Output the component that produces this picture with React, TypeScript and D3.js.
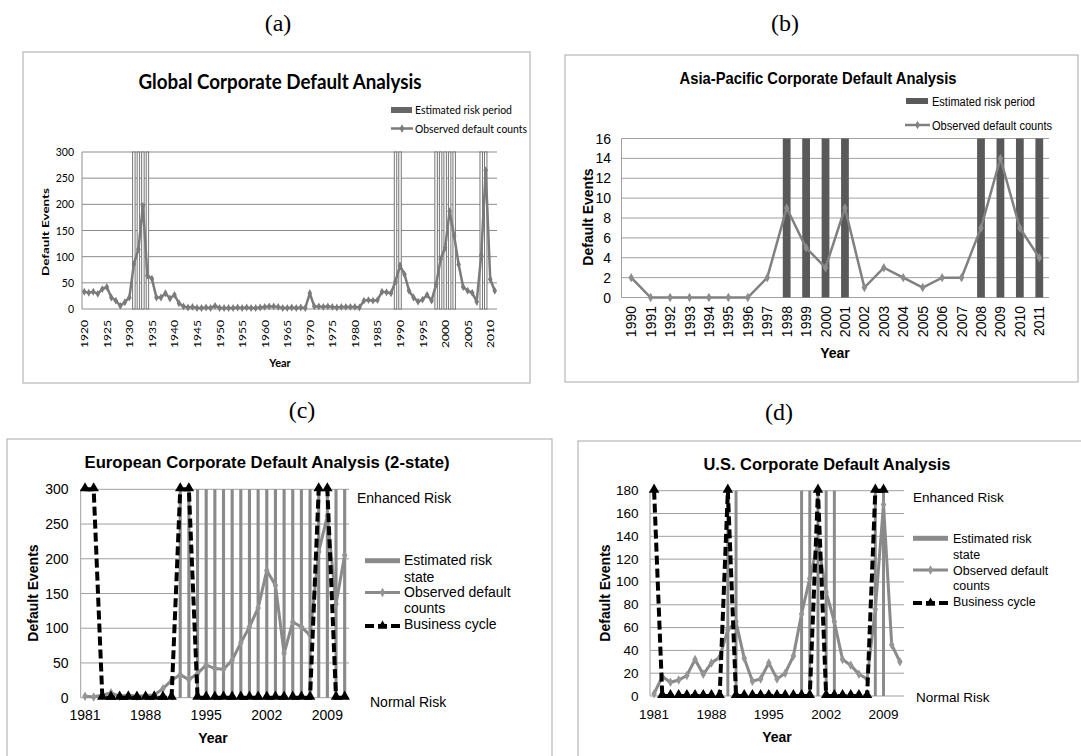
import React from 'react';
import * as d3 from 'd3';

// ---- data ----
const globalYears = d3.range(1920, 2012);
const globalDefaults = [
  33, 31, 33, 29, 38, 42, 22, 16, 6, 13,
  22, 86, 114, 197, 64, 58, 22, 22, 30, 20,
  27, 11, 5, 3, 4, 2, 2, 3, 2, 6,
  2, 2, 2, 2, 3, 2, 3, 2, 2, 3,
  4, 5, 5, 4, 2, 2, 3, 2, 3, 2,
  30, 5, 5, 4, 5, 4, 3, 4, 4, 4,
  4, 3, 16, 17, 16, 17, 33, 32, 30, 53,
  83, 66, 35, 22, 14, 18, 27, 16, 47, 95,
  117, 187, 140, 85, 42, 35, 31, 14, 103, 265,
  57, 35,
];
const globalRisk = [1931, 1932, 1933, 1934, 1989, 1990, 1998, 1999, 2000, 2001, 2002, 2008, 2009];
const globalTickYears = [1920, 1925, 1930, 1935, 1940, 1945, 1950, 1955, 1960, 1965, 1970, 1975, 1980, 1985, 1990, 1995, 2000, 2005, 2010];
const globalYTicks = [0, 50, 100, 150, 200, 250, 300];

const asiaYears = d3.range(1990, 2012);
const asiaDefaults = [2, 0, 0, 0, 0, 0, 0, 2, 9, 5, 3, 9, 1, 3, 2, 1, 2, 2, 7, 14, 7, 4];
const asiaRisk = [1998, 1999, 2000, 2001, 2008, 2009, 2010, 2011];
const asiaYTicks = [0, 2, 4, 6, 8, 10, 12, 14, 16];

const cycleYears = d3.range(1981, 2012);
const cycleTickYears = [1981, 1988, 1995, 2002, 2009];

const euDefaults = [2, 1, 4, 7, 2, 4, 2, 3, 4, 13, 25, 33, 26, 35, 47, 42, 41, 54, 79, 102, 129, 183, 162, 64, 109, 102, 90, 210, 262, 135, 205];
const euRisk = [1992, 1993, 1994, 1995, 1996, 1997, 1998, 1999, 2000, 2001, 2002, 2003, 2004, 2005, 2006, 2007, 2008, 2009, 2010, 2011];
const euCycle: (number | null)[] = [300, 300, 0, 0, 0, 0, 0, 0, 0, 0, 0, 300, 300, 0, 0, 0, 0, 0, 0, 0, 0, 0, 0, 0, 0, 0, 0, 300, 300, 0, 0];
const euYTicks = [0, 50, 100, 150, 200, 250, 300];

const usDefaults = [2, 17, 12, 14, 18, 32, 19, 29, 34, 58, 65, 33, 13, 15, 29, 15, 20, 35, 72, 103, 135, 91, 65, 32, 27, 19, 15, 76, 168, 45, 30];
const usRisk = [1990, 1991, 1999, 2000, 2001, 2002, 2003, 2008, 2009];
const usCycle: (number | null)[] = [180, 0, 0, 0, 0, 0, 0, 0, 0, 180, 0, 0, 0, 0, 0, 0, 0, 0, 0, 0, 180, 0, 0, 0, 0, 0, 0, 180, 180, null, null];
const usYTicks = [0, 20, 40, 60, 80, 100, 120, 140, 160, 180];

const SANS = "'Liberation Sans', Arial, sans-serif";
const LATO = "Lato, 'Open Sans', sans-serif";
const SERIF = "'Liberation Serif', 'Times New Roman', serif";

type TP = {
  x: number; y: number; size: number; bold?: boolean; font?: string;
  anchor?: 'start' | 'middle' | 'end'; len?: number; rot?: boolean; mid?: boolean;
  children: React.ReactNode;
};
const Txt = ({ x, y, size, bold, font = SANS, anchor = 'start', len, rot, mid, children }: TP) => (
  <text
    transform={`translate(${x},${y})${rot ? ' rotate(-90)' : ''}`}
    fontSize={size}
    fontFamily={font}
    fontWeight={bold ? 'bold' : 'normal'}
    textAnchor={anchor}
    dominantBaseline={mid ? 'central' : undefined}
    fill="#000"
    textLength={len}
    lengthAdjust={len ? 'spacingAndGlyphs' : undefined}
  >
    {children}
  </text>
);

const diamond = (s: number) => d3.symbol().type(d3.symbolDiamond).size(s)() || '';
const triangle = (s: number) => d3.symbol().type(d3.symbolTriangle).size(s)() || '';

// (a) global
const PanelA = () => {
  const x = d3.scaleBand<number>().domain(globalYears).range([82, 497]);
  const y = d3.scaleLinear().domain([0, 300]).range([309, 152]);
  const bw = x.bandwidth();
  const cx = (yr: number) => (x(yr) ?? 0) + bw / 2;
  const line = d3.line<number>().x((_, i) => cx(globalYears[i])).y((d) => y(d));
  const rw = bw * 0.55;
  const grey = '#7b7b7b';
  return (
    <g>
      <rect x={23} y={52} width={507} height={331} fill="#fff" stroke="#c4c4c4" strokeWidth={1.5} />
      <Txt x={280} y={89} size={20} bold font={LATO} anchor="middle" len={283}>Global Corporate Default Analysis</Txt>
      <rect x={391} y={107} width={21} height={6} fill="#666" />
      <Txt x={415} y={113.5} size={11} font={LATO} len={97}>Estimated risk period</Txt>
      <line x1={391} x2={413} y1={128.5} y2={128.5} stroke={grey} strokeWidth={2.5} />
      <path d={diamond(20)} transform="translate(402,128.5)" fill={grey} />
      <Txt x={415} y={132.5} size={11} font={LATO} len={112}>Observed default counts</Txt>
      {globalYTicks.map((t) => (
        <g key={t}>
          <line x1={82} x2={497} y1={y(t)} y2={y(t)} stroke="#8c8c8c" strokeWidth={1} />
          <Txt x={74} y={y(t)} size={10.5} font={LATO} anchor="end" mid>{t}</Txt>
        </g>
      ))}
      <line x1={82} x2={82} y1={152} y2={309} stroke="#8c8c8c" />
      {globalRisk.map((yr) => (
        <rect key={yr} x={cx(yr) - rw / 2} y={152} width={rw} height={157} fill="#fafafa" stroke="#6a6a6a" strokeWidth={0.9} />
      ))}
      <path d={line(globalDefaults) || ''} fill="none" stroke={grey} strokeWidth={2.5} />
      {globalDefaults.map((v, i) => (
        <path key={i} d={diamond(18)} transform={`translate(${cx(globalYears[i])},${y(v)})`} fill={grey} />
      ))}
      {globalTickYears.map((yr) => (
        <Txt key={yr} x={cx(yr)} y={320} size={10} font={LATO} anchor="end" rot mid len={28}>{yr}</Txt>
      ))}
      <Txt x={280} y={367} size={11} bold font={LATO} anchor="middle">Year</Txt>
      <Txt x={45} y={232} size={10} bold font={LATO} anchor="middle" rot mid len={88}>Default Events</Txt>
    </g>
  );
};

// (b) asia-pacific
const PanelB = () => {
  const x = d3.scaleBand<number>().domain(asiaYears).range([621.5, 1049]);
  const y = d3.scaleLinear().domain([0, 16]).range([297.5, 138.5]);
  const bw = x.bandwidth();
  const cx = (yr: number) => (x(yr) ?? 0) + bw / 2;
  const line = d3.line<number>().x((_, i) => cx(asiaYears[i])).y((d) => y(d));
  const rw = bw * 0.4;
  const grey = '#808080';
  return (
    <g>
      <rect x={565} y={55} width={513} height={327} fill="#fff" stroke="#a8a8a8" strokeWidth={1} />
      <Txt x={818} y={84} size={16.5} bold anchor="middle" len={277}>Asia-Pacific Corporate Default Analysis</Txt>
      <rect x={906} y={98} width={22} height={6} fill="#595959" />
      <Txt x={932} y={106} size={12.5} len={103}>Estimated risk period</Txt>
      <line x1={905} x2={930} y1={125} y2={125} stroke={grey} strokeWidth={2.5} />
      <path d={diamond(20)} transform="translate(917.5,125)" fill={grey} />
      <Txt x={932} y={130} size={12.5} len={120}>Observed default counts</Txt>
      {asiaYTicks.map((t) => (
        <g key={t}>
          <line x1={621.5} x2={1049} y1={y(t)} y2={y(t)} stroke="#a0a0a0" strokeWidth={1} />
          <Txt x={611} y={y(t)} size={14} anchor="end" mid>{t}</Txt>
        </g>
      ))}
      <line x1={621.5} x2={621.5} y1={138.5} y2={297.5} stroke="#a0a0a0" />
      {asiaRisk.map((yr) => (
        <rect key={yr} x={cx(yr) - rw / 2} y={138.5} width={rw} height={159} fill="#595959" />
      ))}
      <path d={line(asiaDefaults) || ''} fill="none" stroke={grey} strokeWidth={2.5} />
      {asiaDefaults.map((v, i) => (
        <path key={i} d={diamond(26)} transform={`translate(${cx(asiaYears[i])},${y(v)})`} fill="#8c8c8c" />
      ))}
      {asiaYears.map((yr) => (
        <Txt key={yr} x={cx(yr)} y={306} size={14} anchor="end" rot mid>{yr}</Txt>
      ))}
      <Txt x={835} y={358} size={14} bold anchor="middle">Year</Txt>
      <Txt x={588} y={217} size={14} bold anchor="middle" rot mid>Default Events</Txt>
    </g>
  );
};

type CL = {
  frame: [number, number]; title: string; titleX: number; titleLen: number;
  defaults: number[]; risk: number[]; cycle: (number | null)[]; yTicks: number[];
  plot: [number, number, number, number]; tickSize: number; tickRight: number; xTickY: number;
  yearPos: [number, number]; evPos: [number, number];
  enh: [number, number]; norm: [number, number];
  lx: number; ltx: number; lys: [number, number, number, number, number, number, number]; lSize: number;
};

// (c),(d) with business cycle
const CyclePanel = (p: CL) => {
  const [l, r, top, bot] = p.plot;
  const x = d3.scaleBand<number>().domain(cycleYears).range([l, r]);
  const y = d3.scaleLinear().domain([0, p.yTicks[p.yTicks.length - 1]]).range([bot, top]);
  const bw = x.bandwidth();
  const cx = (yr: number) => (x(yr) ?? 0) + bw / 2;
  const obs = d3.line<number>().x((_, i) => cx(cycleYears[i])).y((d) => y(d));
  const cyc = d3.line<number | null>().defined((d) => d != null).x((_, i) => cx(cycleYears[i])).y((d) => y(d as number));
  const rw = bw * 0.36;
  const grey = '#8a8a8a';
  const [ry, s1, s2, oy, o1, o2, by] = p.lys;
  return (
    <g>
      <rect x={p.frame[0]} y={p.frame[1]} width={545} height={340} fill="#fff" stroke="#a8a8a8" strokeWidth={1} />
      <Txt x={p.titleX} y={p.frame[1] + 29} size={16.5} bold anchor="middle" len={p.titleLen}>{p.title}</Txt>
      {p.yTicks.map((t) => (
        <g key={t}>
          <line x1={l} x2={r} y1={y(t)} y2={y(t)} stroke="#a0a0a0" strokeWidth={1} />
          <Txt x={p.tickRight} y={y(t)} size={p.tickSize} anchor="end" mid>{t}</Txt>
        </g>
      ))}
      <line x1={l} x2={l} y1={top} y2={bot} stroke="#a0a0a0" />
      {p.risk.map((yr) => (
        <rect key={yr} x={cx(yr) - rw / 2} y={top} width={rw} height={bot - top} fill={grey} />
      ))}
      <path d={obs(p.defaults) || ''} fill="none" stroke={grey} strokeWidth={3} />
      {p.defaults.map((v, i) => (
        <path key={i} d={diamond(26)} transform={`translate(${cx(cycleYears[i])},${y(v)})`} fill="#959595" />
      ))}
      <path d={cyc(p.cycle) || ''} fill="none" stroke="#000" strokeWidth={4} strokeDasharray="9 4" />
      {p.cycle.map((v, i) =>
        v == null ? null : (
          <path key={i} d={triangle(48)} transform={`translate(${cx(cycleYears[i])},${y(v) - 1})`} fill="#000" />
        ),
      )}
      {cycleTickYears.map((yr) => (
        <Txt key={yr} x={cx(yr)} y={p.xTickY} size={p.tickSize} anchor="middle">{yr}</Txt>
      ))}
      <Txt x={p.yearPos[0]} y={p.yearPos[1]} size={14} bold anchor="middle">Year</Txt>
      <Txt x={p.evPos[0]} y={p.evPos[1]} size={14} bold anchor="middle" rot mid>Default Events</Txt>
      <Txt x={p.enh[0]} y={p.enh[1]} size={p.tickSize}>Enhanced Risk</Txt>
      <Txt x={p.norm[0]} y={p.norm[1]} size={p.tickSize}>Normal Risk</Txt>
      <rect x={p.lx} y={ry - 2.5} width={35} height={5} fill={grey} />
      <Txt x={p.ltx} y={s1} size={p.lSize}>Estimated risk</Txt>
      <Txt x={p.ltx} y={s2} size={p.lSize}>state</Txt>
      <line x1={p.lx} x2={p.lx + 35} y1={oy} y2={oy} stroke={grey} strokeWidth={3} />
      <path d={diamond(26)} transform={`translate(${p.lx + 17.5},${oy})`} fill="#959595" />
      <Txt x={p.ltx} y={o1} size={p.lSize}>Observed default</Txt>
      <Txt x={p.ltx} y={o2} size={p.lSize}>counts</Txt>
      <line x1={p.lx} x2={p.lx + 35} y1={by} y2={by} stroke="#000" strokeWidth={4} strokeDasharray="9 4" />
      <path d={triangle(40)} transform={`translate(${p.lx + 17.5},${by})`} fill="#000" />
      <Txt x={p.ltx} y={by + 3} size={p.lSize}>Business cycle</Txt>
    </g>
  );
};

export default function App() {
  return (
    <svg width={1081} height={756} viewBox="0 0 1081 756" style={{ position: 'absolute', left: 0, top: 0, background: '#fff' }}>
      <rect width={1081} height={756} fill="#fff" />
      <Txt x={278} y={31} size={24} font={SERIF} anchor="middle">(a)</Txt>
      <Txt x={785} y={31} size={24} font={SERIF} anchor="middle">(b)</Txt>
      <PanelA />
      <PanelB />
      <Txt x={302} y={418} size={24} font={SERIF} anchor="middle">(c)</Txt>
      <Txt x={779} y={420} size={24} font={SERIF} anchor="middle">(d)</Txt>
      <CyclePanel
        frame={[7, 439]} title="European Corporate Default Analysis (2-state)" titleX={267} titleLen={365}
        defaults={euDefaults} risk={euRisk} cycle={euCycle} yTicks={euYTicks}
        plot={[80.7, 349, 489.3, 697.7]} tickSize={14} tickRight={68.5} xTickY={720}
        yearPos={[213, 743]} evPos={[33, 593]} enh={[357, 503]} norm={[370, 706.5]}
        lx={365} ltx={404} lys={[560.7, 565, 581.5, 592.5, 596.5, 613, 626]} lSize={14}
      />
      <CyclePanel
        frame={[578, 441]} title="U.S. Corporate Default Analysis" titleX={827} titleLen={247}
        defaults={usDefaults} risk={usRisk} cycle={usCycle} yTicks={usYTicks}
        plot={[650, 904, 490.7, 696]} tickSize={13.5} tickRight={638.5} xTickY={718.5}
        yearPos={[777, 742]} evPos={[605, 593]} enh={[913, 501.5]} norm={[916, 701.5]}
        lx={913} ltx={953} lys={[538.3, 542.5, 558.5, 570, 574.5, 589.5, 603]} lSize={12.5}
      />
    </svg>
  );
}
